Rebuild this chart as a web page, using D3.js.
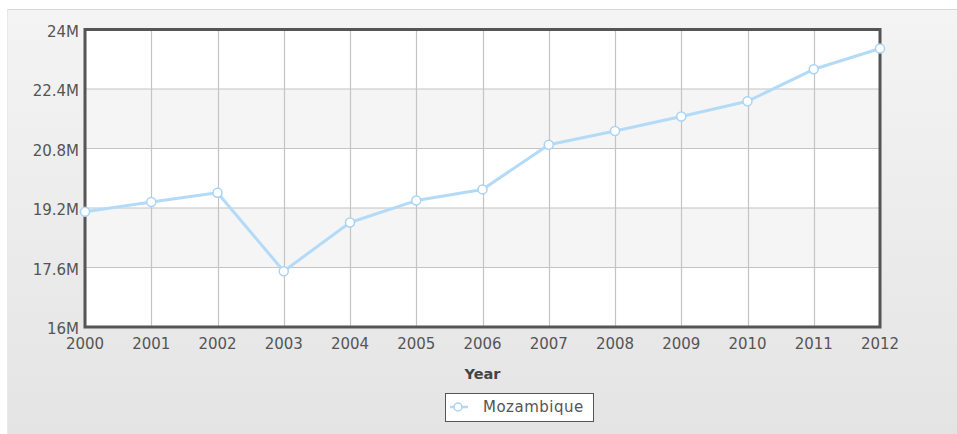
<!DOCTYPE html>
<html><head><meta charset="utf-8">
<script src="https://cdn.jsdelivr.net/npm/d3@7"></script>
<style>
html,body{margin:0;padding:0;background:#fff;}
svg{display:block;font-family:"DejaVu Sans",Verdana,sans-serif;}
</style></head>
<body>
<svg id="c" width="957" height="434"></svg>
<script>
const years = [2000,2001,2002,2003,2004,2005,2006,2007,2008,2009,2010,2011,2012];
const population = [19.10e6,19.36e6,19.61e6,17.50e6,18.81e6,19.40e6,19.70e6,20.90e6,21.27e6,21.66e6,22.07e6,22.93e6,23.49e6];
const yTicks = [16e6,17.6e6,19.2e6,20.8e6,22.4e6,24e6];
const yTickLabels = ["16M","17.6M","19.2M","20.8M","22.4M","24M"];
const seriesName = "Mozambique";
const xTitle = "Year";

const svg = d3.select("#c");
const W = 957, H = 434;
const m = {left:85, right:880, top:29.5, bottom:327};

const defs = svg.append("defs");
const g = defs.append("linearGradient").attr("id","bg").attr("x1",0).attr("y1",0).attr("x2",0).attr("y2",1);
g.append("stop").attr("offset","0%").attr("stop-color","#f4f4f4");
g.append("stop").attr("offset","100%").attr("stop-color","#e4e4e4");

svg.append("rect").attr("x",7).attr("y",9).attr("width",W-7).attr("height",H-9).attr("fill","url(#bg)");
svg.append("line").attr("x1",7).attr("x2",W).attr("y1",9.5).attr("y2",9.5).attr("stroke","#d6d6d6");
svg.append("line").attr("x1",7.5).attr("x2",7.5).attr("y1",9).attr("y2",H).attr("stroke","#e8e8e8");

const x = d3.scaleLinear().domain([years[0], years[years.length-1]]).range([m.left, m.right]);
const y = d3.scaleLinear().domain([yTicks[0], yTicks[yTicks.length-1]]).range([m.bottom, m.top]);

// bands
for (let i=0;i<yTicks.length-1;i++){
  svg.append("rect").attr("x",m.left).attr("width",m.right-m.left)
    .attr("y",y(yTicks[i+1])).attr("height",y(yTicks[i])-y(yTicks[i+1]))
    .attr("fill", i%2===1 ? "#f5f5f5" : "#ffffff");
}
// grid
svg.append("g").selectAll("line").data(years).join("line")
  .attr("x1",d=>Math.round(x(d))+0.5).attr("x2",d=>Math.round(x(d))+0.5)
  .attr("y1",m.top).attr("y2",m.bottom).attr("stroke","#c4c4c4").attr("stroke-width",1.2);
svg.append("g").selectAll("line").data(yTicks).join("line")
  .attr("x1",m.left).attr("x2",m.right)
  .attr("y1",d=>y(d)).attr("y2",d=>y(d)).attr("stroke","#c4c4c4").attr("stroke-width",1.2);

// frame
svg.append("rect").attr("x",m.left).attr("y",m.top).attr("width",m.right-m.left).attr("height",m.bottom-m.top)
  .attr("fill","none").attr("stroke","#555").attr("stroke-width",3);

// y labels
svg.append("g").selectAll("text").data(yTicks).join("text")
  .attr("x",79).attr("y",d=>y(d)+2).attr("dy","0.35em").attr("text-anchor","end")
  .attr("font-size","15px").attr("fill","#555").text((d,i)=>yTickLabels[i]);
// x labels
svg.append("g").selectAll("text").data(years).join("text")
  .attr("x",d=>x(d)).attr("y",349).attr("text-anchor","middle")
  .attr("font-size","15px").attr("fill","#555").text(d=>d);

svg.append("text").attr("x",(m.left+m.right)/2).attr("y",379).attr("text-anchor","middle")
  .attr("font-size","14.5px").attr("font-weight","bold").attr("fill","#444").text(xTitle);

// line
const line = d3.line().x((d,i)=>x(years[i])).y(d=>y(d));
svg.append("path").datum(population).attr("d",line).attr("fill","none")
  .attr("stroke","#b3dbf8").attr("stroke-width",3).attr("stroke-linejoin","round");
svg.append("g").selectAll("circle").data(population).join("circle")
  .attr("cx",(d,i)=>x(years[i])).attr("cy",d=>y(d)).attr("r",4.5)
  .attr("fill","#fff").attr("stroke","#a8d4f5").attr("stroke-width",1.5);

// legend
const lg = svg.append("g");
lg.append("rect").attr("x",445.5).attr("y",393.5).attr("width",148).attr("height",28)
  .attr("fill","#fff").attr("stroke","#555").attr("stroke-width",1);
lg.append("line").attr("x1",450).attr("x2",468).attr("y1",407).attr("y2",407).attr("stroke","#b3dbf8").attr("stroke-width",2.5);
lg.append("circle").attr("cx",458).attr("cy",407).attr("r",4).attr("fill","#fff").attr("stroke","#a8d4f5").attr("stroke-width",1.5);
lg.append("text").attr("x",483).attr("y",412).attr("font-size","15px").attr("fill","#555")
  .attr("letter-spacing","0.5px").text(seriesName);
</script>
</body></html>
